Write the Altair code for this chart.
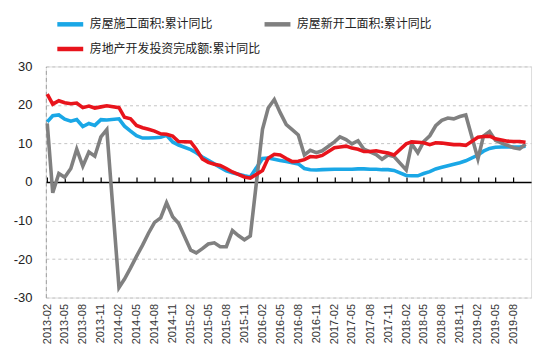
import altair as alt
import pandas as pd

# ---- categories -------------------------------------------------------
series_names = ["房屋施工面积:累计同比", "房屋新开工面积:累计同比", "房地产开发投资完成额:累计同比"]
series_colors = ["#1AA7E6", "#808080", "#E8141C"]

# monthly cumulative data (January is not published: Jan-Feb combined)
months = []
for yr in range(2013, 2020):
    last = 10 if yr == 2019 else 12
    for mo in range(2, last + 1):
        months.append(f"{yr}-{mo:02d}-01")

# ---- series values ----------------------------------------------------
construction = [
    15.6, 17.2, 17.4, 16.3, 15.8, 16.2, 14.4, 15.2, 14.7, 16.2, 16.1,   # 2013
    16.4, 14.5, 13.2, 12.0, 11.4, 11.4, 11.5, 11.6, 12.1, 10.4, 9.6,    # 2014
    8.4, 7.6, 6.5, 5.6, 4.7, 3.8, 2.9, 2.4, 2.0, 1.6, 1.3,              # 2015
    6.1, 6.2, 5.9, 5.6, 5.3, 5.0, 4.7, 3.5, 3.2, 3.1, 3.2,              # 2016
    3.3, 3.3, 3.3, 3.3, 3.4, 3.4, 3.3, 3.3, 3.2, 3.2, 3.0,              # 2017
    1.7, 1.6, 1.6, 2.2, 2.7, 3.4, 3.8, 4.2, 4.6, 5.0, 5.5,              # 2018
    7.0, 8.0, 8.7, 9.0, 9.1, 9.1, 9.1, 9.1, 9.3,                        # 2019
]
new_starts = [
    15.2, -2.8, 2.2, 1.2, 3.5, 8.5, 4.1, 7.8, 6.7, 11.7, 13.6,
    -27.4, -25.2, -22.3, -19.3, -16.4, -13.3, -10.5, -9.3, -5.4, -9.0, -10.7,
    -17.7, -18.4, -17.3, -16.1, -15.8, -16.8, -16.8, -12.6, -13.9, -15.0, -14.0,
    13.7, 19.2, 21.4, 18.0, 14.9, 13.6, 12.2, 7.0, 8.2, 7.6, 8.1,
    10.4, 11.7, 11.0, 9.9, 10.7, 8.5, 7.8, 7.1, 5.9, 7.0, 6.6,
    3.1, 9.9, 7.6, 10.5, 12.0, 14.6, 16.0, 16.6, 16.4, 17.0, 17.4,
    6.0, 11.9, 13.1, 10.8, 10.1, 9.5, 8.9, 8.6, 9.8,
]
investment = [
    22.8, 20.2, 21.1, 20.6, 20.3, 20.5, 19.3, 19.7, 19.2, 19.5, 19.8,
    19.3, 16.8, 16.4, 14.7, 14.1, 13.7, 13.2, 12.5, 12.4, 11.9, 10.5,
    10.4, 8.5, 6.0, 5.1, 4.6, 4.3, 3.5, 2.6, 2.0, 1.3, 1.0,
    3.0, 6.2, 7.2, 7.0, 6.1, 5.3, 5.4, 5.8, 6.6, 6.5, 6.9,
    8.9, 9.1, 9.3, 8.8, 8.5, 7.9, 7.9, 8.1, 7.8, 7.5, 7.0,
    9.9, 10.4, 10.3, 10.2, 9.7, 10.2, 10.1, 9.9, 9.7, 9.7, 9.5,
    11.6, 11.8, 11.9, 11.2, 10.9, 10.6, 10.5, 10.5, 10.3,
]

# tick labels: every three months from 2013-02 to 2019-08
tick_months = [(2013 + (i + 1) // 12, (i + 1) % 12 + 1) for i in range(0, 79, 3)]
y_ticks = [-30, -20, -10, 0, 10, 20, 30]

# ---- table -------------------------------------------------------------
rows = []
for name, vals in zip(series_names, [construction, new_starts, investment]):
    for d, v in zip(months, vals):
        rows.append({"date": d, "value": v, "series": name})
df = pd.DataFrame(rows)

tick_vals = [alt.DateTime(year=y, month=m, date=1, utc=True) for y, m in tick_months]
x_scale = alt.Scale(
    type="utc",
    domain=[alt.DateTime(year=2013, month=1, date=25, utc=True),
            alt.DateTime(year=2019, month=10, date=29, utc=True)],
)
y_scale = alt.Scale(domain=[-30, 30], nice=False, zero=False)

color_enc = alt.Color(
    "series:N",
    scale=alt.Scale(domain=series_names, range=series_colors),
    legend=alt.Legend(
        orient="none", legendX=9, legendY=-58, columns=2, direction="horizontal",
        title=None,
        symbolType="stroke", symbolSize=676, symbolStrokeWidth=4.5,
        labelFontSize=12, labelFont="Noto Sans CJK SC", labelColor="#222",
        labelOffset=4, columnPadding=-6, rowPadding=-20, labelLimit=400,
    ),
)

label_axis = alt.Axis(
    values=tick_vals, labelExpr="utcFormat(datum.value, '%Y-%m')",
    labelAngle=-90, labelFontSize=11, labelFont="Liberation Sans",
    labelColor="#333", labelPadding=6, domain=False, ticks=False,
    grid=False, title=None,
)
zero_axis = alt.Axis(
    values=tick_vals, offset=-116, labels=False, ticks=True, tickSize=5,
    tickColor="#000", tickWidth=1.2, domainColor="#000", domainWidth=1.5,
    grid=False, title=None,
)
y_axis = alt.Axis(
    values=y_ticks, labelExpr="'' + datum.value", grid=True,
    gridDash=[3, 3], gridColor="#c4c4c4", gridWidth=1,
    domain=True, domainDash=[4, 3], domainColor="#a0a0a0", domainWidth=1,
    ticks=False, labelPadding=14, labelFontSize=13,
    labelFont="Liberation Sans", labelColor="#222", title=None,
)


def layer(name, xaxis, yaxis):
    return (
        alt.Chart(df)
        .transform_filter(alt.datum.series == name)
        .mark_line(strokeWidth=3.6)
        .encode(
            x=alt.X("date:T", scale=x_scale, axis=xaxis),
            y=alt.Y("value:Q", scale=y_scale, axis=yaxis),
            color=color_enc,
        )
    )


chart = (
    alt.layer(
        layer(series_names[0], label_axis, y_axis),
        layer(series_names[1], zero_axis, None),
        layer(series_names[2], None, None),
    )
    .resolve_axis(x="independent", y="independent")
    .properties(
        width=487, height=232,
        autosize=alt.AutoSizeParams(type="none"),
        padding={"left": 38, "top": 58, "right": 10, "bottom": 54},
    )
    .configure_view(stroke=None)
    .configure(background="white")
)

chart.save("out.html", embed_options={"renderer": "svg", "actions": False})
